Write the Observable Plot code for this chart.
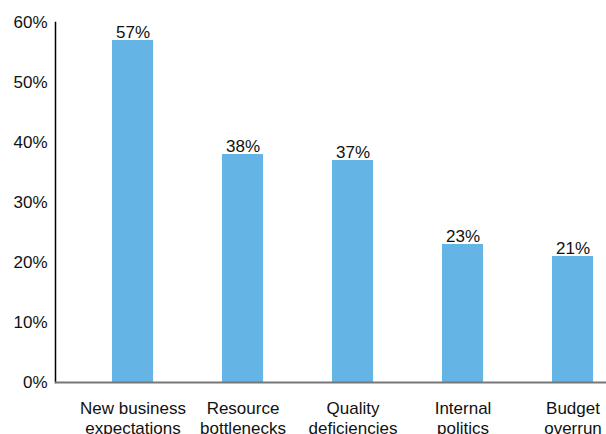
<!DOCTYPE html>
<html>
<head>
<meta charset="utf-8">
<script src="https://cdn.jsdelivr.net/npm/d3@7"></script>
<script src="https://cdn.jsdelivr.net/npm/@observablehq/plot@0.6"></script>
<style>
  html, body { margin: 0; padding: 0; background: #fff; }
  #chart svg { display: block; }
</style>
</head>
<body>
<div id="chart"></div>
<script>
const categories = ["New business\nexpectations", "Resource\nbottlenecks", "Quality\ndeficiencies", "Internal\npolitics", "Budget\noverrun"];
const values = [57, 38, 37, 23, 21];
const yTicks = [0, 10, 20, 30, 40, 50, 60];

const data = categories.map((c, i) => ({category: c, value: values[i]}));

const chart = Plot.plot({
  width: 606,
  height: 434,
  marginTop: 22,
  marginBottom: 52,
  marginLeft: 55,
  marginRight: 0,
  style: {fontFamily: "'Liberation Sans', Arial, Helvetica, sans-serif", fontSize: "17px", color: "#111", background: "#fff"},
  x: {domain: categories, range: [41.4, 663.5], padding: 0.63, label: null},
  y: {domain: [0, 60], label: null},
  marks: [
    Plot.barY(data, {x: "category", y: "value", fill: "#64b5e6"}),
    Plot.text(data, {x: "category", y: "value", text: d => d.value + "%", lineAnchor: "bottom", dy: -2.5, fill: "#111", fontSize: 17}),
    Plot.axisY({ticks: yTicks, tickSize: 0, tickPadding: 8, tickFormat: d => d + "%", fontSize: 17, label: null}),
    Plot.axisX({tickSize: 0, tickPadding: 17, fontSize: 17, lineHeight: 1.2, label: null}),
    Plot.frame({anchor: "left", stroke: "#000", strokeWidth: 1.5}),
    Plot.ruleY([0], {stroke: "#777", strokeWidth: 2})
  ]
});
document.getElementById("chart").appendChild(chart);
</script>
</body>
</html>
